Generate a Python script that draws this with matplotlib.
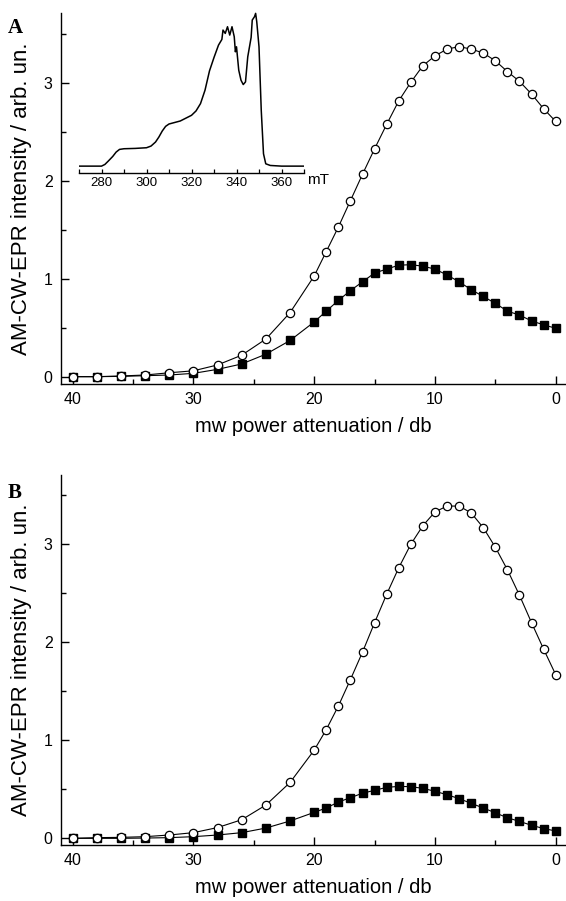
import matplotlib
matplotlib.use("Agg")
import matplotlib.pyplot as plt
from matplotlib.ticker import MultipleLocator

plt.rcParams['font.family'] = ['Liberation Sans', 'DejaVu Sans']

# ---- data ----
atten = [40, 38, 36, 34, 32, 30, 28, 26, 24, 22, 20, 19, 18, 17, 16, 15,
         14, 13, 12, 11, 10, 9, 8, 7, 6, 5, 4, 3, 2, 1, 0]

a_open = [0.0, 0.0, 0.007, 0.017, 0.04, 0.06, 0.12, 0.22, 0.385, 0.655, 1.03,
          1.28, 1.53, 1.80, 2.07, 2.33, 2.58, 2.82, 3.01, 3.18, 3.28, 3.35,
          3.375, 3.35, 3.31, 3.23, 3.12, 3.02, 2.89, 2.74, 2.61]
a_filled = [0.0, 0.0, 0.003, 0.01, 0.017, 0.034, 0.075, 0.13, 0.23, 0.37, 0.56,
            0.67, 0.78, 0.88, 0.97, 1.06, 1.10, 1.14, 1.145, 1.13, 1.10, 1.04,
            0.97, 0.89, 0.82, 0.75, 0.67, 0.63, 0.57, 0.53, 0.495]

b_open = [0.0, 0.007, 0.01, 0.017, 0.034, 0.058, 0.11, 0.19, 0.34, 0.57, 0.90,
          1.11, 1.35, 1.62, 1.90, 2.20, 2.49, 2.76, 3.00, 3.19, 3.33, 3.39,
          3.39, 3.32, 3.17, 2.97, 2.74, 2.48, 2.20, 1.93, 1.67]
b_filled = [0.0, 0.0, 0.0, 0.003, 0.007, 0.017, 0.034, 0.058, 0.105, 0.177, 0.265,
            0.31, 0.37, 0.415, 0.46, 0.49, 0.52, 0.53, 0.527, 0.51, 0.48, 0.445,
            0.405, 0.357, 0.31, 0.26, 0.21, 0.173, 0.133, 0.10, 0.075]

# inset EPR spectrum (field in mT, relative intensity)
field = [270, 280, 281.5, 283, 285, 286.5, 288, 290, 295, 300, 302, 304, 305.5,
         307, 308.5, 310, 315, 320, 322, 324, 326, 328, 330, 332, 333.5, 334,
         335, 336, 337, 338, 339, 339.5, 340, 341, 342, 343, 344, 345, 346.5,
         347, 348, 348.5, 349, 350, 351, 352, 353, 355, 360, 370]
spec_px = [497, 497, 492, 482, 468, 455, 447, 445, 444, 442, 437, 425, 410,
           392, 378, 371, 362, 345, 332, 310, 270, 212, 172, 135, 118, 90,
           100, 80, 105, 80, 110, 155, 140, 210, 240, 253, 245, 170, 112,
           60, 50, 40, 65, 140, 330, 460, 490, 495, 497, 497]
spectrum = [(497 - v) / 457.0 for v in spec_px]

xlabel = 'mw power attenuation / db'
ylabel = 'AM-CW-EPR intensity / arb. un.'

W, H = 566, 901
fig = plt.figure(figsize=(W / 100, H / 100), dpi=100)


def fr(l, t, r, b):
    return [l / W, 1 - b / H, (r - l) / W, (b - t) / H]


def style_main(ax, ylim):
    ax.set_xlim(40.97, -0.77)
    ax.set_ylim(*ylim)
    for s in ['top', 'right']:
        ax.spines[s].set_visible(False)
    for s in ['left', 'bottom']:
        ax.spines[s].set_linewidth(1.0)
    ax.xaxis.set_major_locator(MultipleLocator(10))
    ax.xaxis.set_minor_locator(MultipleLocator(5))
    ax.yaxis.set_major_locator(MultipleLocator(1))
    ax.yaxis.set_minor_locator(MultipleLocator(0.5))
    ax.tick_params(which='both', direction='in', width=1.0, labelsize=11.5)
    ax.tick_params(which='major', length=6, pad=6)
    ax.tick_params(which='minor', length=3.5)
    ax.set_xlabel(xlabel, fontsize=14.5, labelpad=7)
    ax.set_ylabel(ylabel, fontsize=16)
    ax.yaxis.set_label_coords(-0.058, 0.5)


def plot_series(ax, yopen, yfilled):
    ax.plot(atten, yfilled, '-', color='black', lw=0.8, marker='s',
            markersize=5.2, markerfacecolor='black', markeredgecolor='black',
            zorder=3)
    ax.plot(atten, yopen, '-', color='black', lw=0.8, marker='o',
            markersize=6.0, markerfacecolor='white', markeredgecolor='black',
            markeredgewidth=0.9, zorder=4)


axA = fig.add_axes(fr(61, 13, 565, 384))
plot_series(axA, a_open, a_filled)
style_main(axA, (-0.075, 3.719))

axB = fig.add_axes(fr(61, 475, 565, 845))
plot_series(axB, b_open, b_filled)
style_main(axB, (-0.068, 3.707))

fig.text(8 / W, 1 - 33 / H, 'A', fontsize=15, fontweight='bold',
         family=['Liberation Serif', 'DejaVu Serif'], ha='left', va='baseline')
fig.text(8 / W, 1 - 498 / H, 'B', fontsize=15, fontweight='bold',
         family=['Liberation Serif', 'DejaVu Serif'], ha='left', va='baseline')

# inset
axI = fig.add_axes(fr(79, 10.3, 304, 173))
axI.plot(field, spectrum, color='black', lw=1.1)
axI.set_xlim(270, 370)
axI.set_ylim(-0.045, 1.02)
axI.patch.set_alpha(0)
for s in ['top', 'right', 'left']:
    axI.spines[s].set_visible(False)
axI.spines['bottom'].set_linewidth(1.0)
axI.set_yticks([])
axI.set_xticks([280, 300, 320, 340, 360])
axI.set_xticks([270, 290, 310, 330, 350, 370], minor=True)
axI.tick_params(which='both', direction='in', width=0.9, labelsize=9.5)
axI.tick_params(which='major', length=3, pad=3)
axI.tick_params(which='minor', length=3)
axI.text(1.015, -0.045, 'mT', transform=axI.transAxes, fontsize=11,
         ha='left', va='center')

fig.savefig('out.png', dpi=100)
